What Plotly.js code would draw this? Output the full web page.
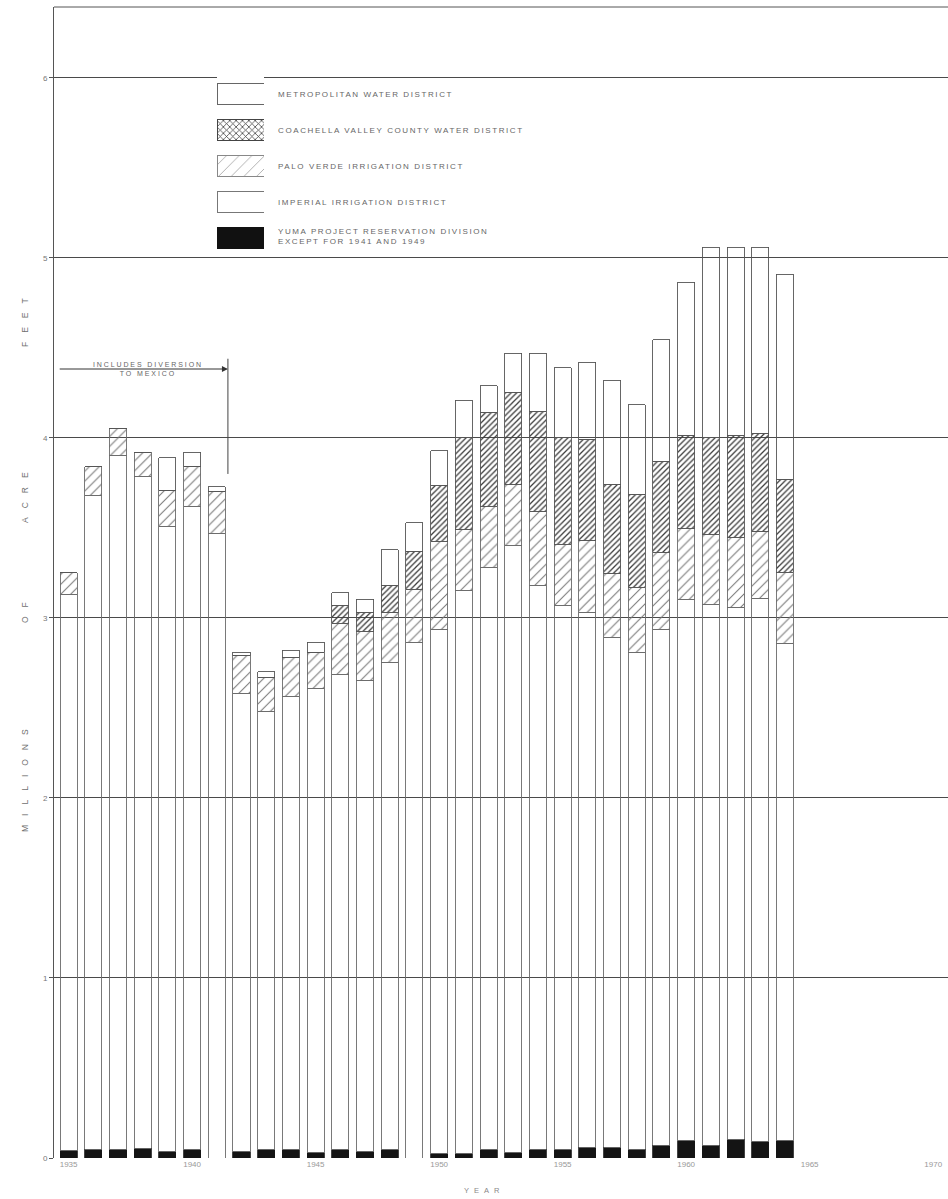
<!DOCTYPE html>
<html>
<head>
<meta charset="utf-8">
<script src="https://cdn.plot.ly/plotly-3.0.1.min.js"></script>
<style>
  html, body { margin: 0; padding: 0; background: #fff; }
  #chart { width: 948px; height: 1199px; }
</style>
</head>
<body>
<div id="chart"></div>
<script>
// Water diversions from the lower Colorado River, millions of acre-feet per year
const years = [1935, 1936, 1937, 1938, 1939, 1940, 1941, 1942, 1943, 1944,
               1945, 1946, 1947, 1948, 1949, 1950, 1951, 1952, 1953, 1954,
               1955, 1956, 1957, 1958, 1959, 1960, 1961, 1962, 1963, 1964];

const yuma = [0.04, 0.05, 0.05, 0.055, 0.035, 0.045, 0, 0.035, 0.045, 0.045,
              0.03, 0.045, 0.035, 0.045, 0, 0.025, 0.025, 0.045, 0.03, 0.05,
              0.045, 0.06, 0.06, 0.05, 0.07, 0.095, 0.07, 0.105, 0.09, 0.095];

const imperial = [3.09, 3.63, 3.85, 3.73, 3.475, 3.575, 3.47, 2.545, 2.435, 2.52,
                  2.58, 2.64, 2.62, 2.705, 2.865, 2.91, 3.13, 3.235, 3.37, 3.13,
                  3.025, 2.97, 2.83, 2.76, 2.865, 3.005, 3.005, 2.955, 3.02, 2.765];

const paloVerde = [0.12, 0.16, 0.15, 0.135, 0.20, 0.22, 0.23, 0.21, 0.19, 0.215,
                   0.20, 0.285, 0.27, 0.28, 0.295, 0.49, 0.335, 0.34, 0.34, 0.41,
                   0.34, 0.40, 0.355, 0.36, 0.43, 0.395, 0.39, 0.385, 0.37, 0.395];

const coachella = [0, 0, 0, 0, 0, 0, 0, 0, 0, 0,
                   0, 0.10, 0.105, 0.15, 0.21, 0.31, 0.51, 0.52, 0.51, 0.555,
                   0.59, 0.56, 0.495, 0.515, 0.505, 0.52, 0.535, 0.57, 0.545, 0.515];

const metropolitan = [0, 0, 0, 0, 0.18, 0.08, 0.03, 0.02, 0.03, 0.04,
                      0.055, 0.07, 0.075, 0.20, 0.16, 0.195, 0.21, 0.15, 0.22, 0.325,
                      0.39, 0.43, 0.58, 0.50, 0.675, 0.85, 1.06, 1.045, 1.035, 1.14];

const tickYears = [1935, 1940, 1945, 1950, 1955, 1960, 1965, 1970];
const tickLabels = ['1935', '1940', '1945', '1950', '1955', '1960', '1965', '1970'];

// Key entries, bottom to top
const keyIds = ['yuma', 'imperial', 'paloVerde', 'coachella', 'metropolitan'];
const keyLabels = [
  'YUMA PROJECT RESERVATION DIVISION<br>EXCEPT FOR 1941 AND 1949',
  'IMPERIAL IRRIGATION DISTRICT',
  'PALO VERDE IRRIGATION DISTRICT',
  'COACHELLA VALLEY COUNTY WATER DISTRICT',
  'METROPOLITAN WATER DISTRICT'
];

const CLEAR = 'rgba(0,0,0,0)';
const EDGE = '#6a6a6a';
const FONT = 'Liberation Sans, Arial, sans-serif';

const styles = {
  yuma: { color: '#141414', line: { color: '#141414', width: 0.8 } },
  imperial: { color: CLEAR, line: { color: EDGE, width: 0.9 } },
  paloVerde: {
    color: CLEAR, line: { color: EDGE, width: 0.9 },
    pattern: { shape: '/', fgcolor: '#777', bgcolor: CLEAR, size: 7, solidity: 0.15, fillmode: 'replace' }
  },
  coachella: {
    color: CLEAR, line: { color: '#555', width: 0.9 },
    pattern: { shape: '/', fgcolor: '#3a3a3a', bgcolor: CLEAR, size: 4, solidity: 0.32, fillmode: 'replace' }
  },
  metropolitan: { color: CLEAR, line: { color: '#555', width: 0.9 } }
};

const keyStyles = {
  yuma: { color: '#111', line: { color: '#111', width: 1 } },
  imperial: { color: CLEAR, line: { color: '#777', width: 1 } },
  paloVerde: {
    color: CLEAR, line: { color: '#888', width: 1 },
    pattern: { shape: '/', fgcolor: '#aaa', bgcolor: CLEAR, size: 9, solidity: 0.1, fillmode: 'replace' }
  },
  coachella: {
    color: CLEAR, line: { color: '#444', width: 1 },
    pattern: { shape: 'x', fgcolor: '#333', bgcolor: CLEAR, size: 4.5, solidity: 0.3, fillmode: 'replace' }
  },
  metropolitan: { color: CLEAR, line: { color: '#666', width: 1 } }
};

function segment(values, marker) {
  return {
    type: 'bar', x: years, y: values, width: 0.69,
    marker: marker, hoverinfo: 'skip', showlegend: false,
    xaxis: 'x', yaxis: 'y'
  };
}

const traces = [
  segment(yuma, styles.yuma),
  segment(imperial, styles.imperial),
  segment(paloVerde, styles.paloVerde),
  segment(coachella, styles.coachella),
  segment(metropolitan, styles.metropolitan)
];

// key swatches on their own small axes
keyIds.forEach((id) => traces.push({
  type: 'bar', orientation: 'h', x: [1], y: [id], width: 0.58,
  xaxis: 'x2', yaxis: 'y2', hoverinfo: 'skip', showlegend: false,
  marker: keyStyles[id]
}));

// Plot frame: left 54px, top 7px, bottom 41px, right edge flush
const W = 948, H = 1199, L = 54, T = 7, B = 41;
const plotW = W - L, plotH = H - T - B;
const px = (x) => (x - L) / plotW;          // page x -> paper x
const py = (y) => (H - B - y) / plotH;      // page y -> paper y

const annotations = [];
const spacing = [];
function note(a, ls) { annotations.push(a); spacing.push(ls); }

const keyY = [236.5, 203, 167, 131, 94];
keyLabels.forEach((t, i) => note({
  text: t, xref: 'paper', yref: 'paper', x: px(276), y: py(keyY[i]),
  xanchor: 'left', yanchor: 'middle', align: 'left', showarrow: false,
  font: { family: FONT, size: 8, color: '#666' }
}, 1.6));

note({
  text: 'INCLUDES DIVERSION<br>TO MEXICO', xref: 'x', yref: 'y',
  x: 1938.2, y: 4.385, xanchor: 'center', yanchor: 'middle', showarrow: false,
  font: { family: FONT, size: 7, color: '#666' }
}, 1.9);

const titleWords = [['FEET', 318], ['ACRE', 493], ['OF', 608], ['MILLIONS', 776]];
titleWords.forEach(([w, y]) => note({
  text: w, xref: 'paper', yref: 'paper', x: px(25), y: py(y),
  xanchor: 'center', yanchor: 'middle', textangle: -90, showarrow: false,
  font: { family: FONT, size: 8.5, color: '#707070' }
}, 9));

note({
  text: 'YEAR', xref: 'paper', yref: 'paper', x: px(484), y: py(1190),
  xanchor: 'center', yanchor: 'middle', showarrow: false,
  font: { family: FONT, size: 7.5, color: '#888' }
}, 5);

// arrow marking the years that include the diversion to Mexico
note({
  text: '', xref: 'x', yref: 'y', axref: 'x', ayref: 'y',
  x: 1941.45, y: 4.383, ax: 1934.58, ay: 4.383,
  showarrow: true, arrowhead: 2, arrowsize: 1.2, arrowwidth: 1, arrowcolor: '#333', standoff: 0
}, 0);

// letter spacing for the annotation texts
const css = spacing.map((s, i) =>
  `.annotation[data-index="${i}"] .annotation-text { letter-spacing: ${s}px; }`).join('\n');
const styleEl = document.createElement('style');
styleEl.textContent = css;
document.head.appendChild(styleEl);

const layout = {
  width: W, height: H,
  margin: { l: L, r: 0, t: T, b: B, pad: 0 },
  paper_bgcolor: '#fff', plot_bgcolor: '#fff',
  barmode: 'stack',
  font: { family: FONT, color: '#777' },
  xaxis: {
    range: [1934.41, 1970.6], tickvals: tickYears, ticktext: tickLabels,
    showgrid: false, zeroline: false, showline: false, ticks: '',
    tickfont: { family: FONT, size: 8, color: '#999' }
  },
  yaxis: {
    range: [0, 6.394], dtick: 1, tick0: 0,
    showgrid: true, gridcolor: '#4a4a4a', gridwidth: 1,
    zeroline: false, showline: true, linecolor: '#555', linewidth: 1,
    ticks: 'outside', ticklen: 4, tickcolor: '#555',
    tickfont: { family: FONT, size: 8, color: '#777' }
  },
  xaxis2: { domain: [px(217), px(264)], range: [0, 1], visible: false, anchor: 'y2', fixedrange: true },
  yaxis2: {
    domain: [py(256), py(76)], type: 'category', categoryarray: keyIds, categoryorder: 'array',
    range: [-0.5, 4.5], visible: false, anchor: 'x2', fixedrange: true
  },
  shapes: [
    // top frame line
    { type: 'line', xref: 'paper', yref: 'paper', x0: 0, x1: 1, y0: 1, y1: 1,
      line: { color: '#555', width: 1 } },
    // right bound of the diversion period
    { type: 'line', xref: 'x', yref: 'y', x0: 1941.45, x1: 1941.45, y0: 3.80, y1: 4.44,
      line: { color: '#444', width: 1 } }
  ],
  annotations: annotations
};

Plotly.newPlot('chart', traces, layout, { staticPlot: true, displayModeBar: false });
</script>
</body>
</html>
